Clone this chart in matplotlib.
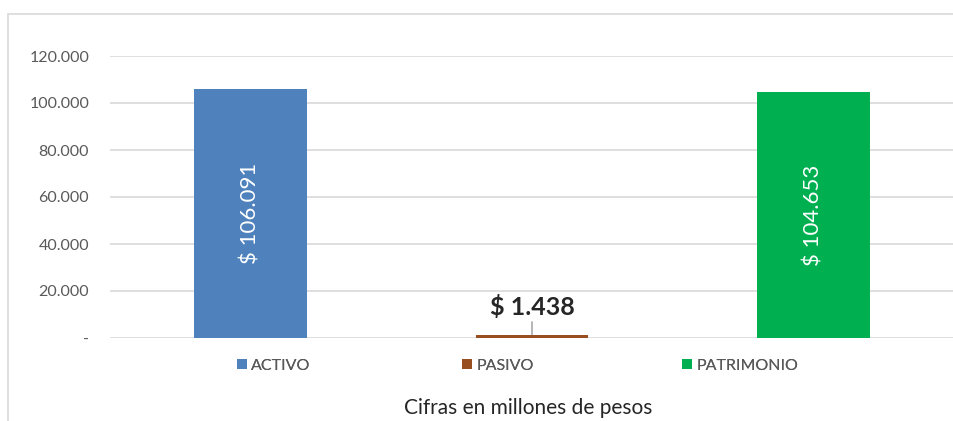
import matplotlib
matplotlib.use("Agg")
import matplotlib.pyplot as plt
from matplotlib.patches import Rectangle, Patch

categories = ["ACTIVO", "PASIVO", "PATRIMONIO"]
values = [106091, 1438, 104653]
labels = ["$ 106.091", "$ 1.438", "$ 104.653"]
colors = ["#4F81BD", "#984E1E", "#00B050"]
yticks = [0, 20000, 40000, 60000, 80000, 100000, 120000]
yticklabels = ["-", "20.000", "40.000", "60.000", "80.000", "100.000", "120.000"]
title = "Cifras en millones de pesos"

plt.rcParams["font.family"] = ["Lato", "DejaVu Sans"]

fig = plt.figure(figsize=(9.54, 4.21), dpi=100)
W, H = 954, 421
# outer chart border (light gray)
fig.patches.append(Rectangle((8 / W, -0.2), 1.2, 1 - 14 / H + 0.2, transform=fig.transFigure,
                             fill=False, edgecolor="#D9D9D9", linewidth=1.2))

ax = fig.add_axes([110 / W, 83 / H, 1 - 110 / W, (338 - 56) / H])
x = list(range(len(categories)))
bars = ax.bar(x, values, width=0.40, color=colors, zorder=3)
ax.set_xlim(-0.5, 2.5)
ax.set_ylim(0, 120000)
ax.set_yticks(yticks)
ax.set_yticklabels(yticklabels)
ax.set_xticks([])
ax.tick_params(axis="y", length=0, pad=15, labelsize=11.5, labelcolor="#595959")
for s in ax.spines.values():
    s.set_visible(False)
ax.grid(axis="y", color="#D9D9D9", linewidth=1.2, zorder=0)
ax.set_axisbelow(True)

# labels inside big bars
for i in (0, 2):
    ax.text(x[i], values[i] / 2, labels[i], rotation=90, ha="center", va="center",
            color="white", fontsize=16, zorder=4)
# pasivo label above with leader
ax.annotate(labels[1], xy=(x[1], values[1]), xytext=(x[1], 13200),
            ha="center", va="center", fontsize=18, fontweight="bold", color="#262626",
            arrowprops=dict(arrowstyle="-", color="#7F7F7F", lw=0.8, shrinkA=10, shrinkB=0))

# legend entries
legend_x = [229, 454, 674]
for i in range(3):
    leg = fig.legend(handles=[Patch(facecolor=colors[i])], labels=[categories[i]],
                     loc="center left", bbox_to_anchor=(legend_x[i] / W, 1 - 366 / H),
                     frameon=False, fontsize=11.5, handlelength=0.6, handleheight=0.6,
                     handletextpad=0.3, borderpad=0, labelcolor="#595959")
    fig.add_artist(leg)

fig.text(528 / W, 1 - 408 / H, title, ha="center", va="center", fontsize=15, color="#262626")

fig.savefig("out.png", dpi=100)
